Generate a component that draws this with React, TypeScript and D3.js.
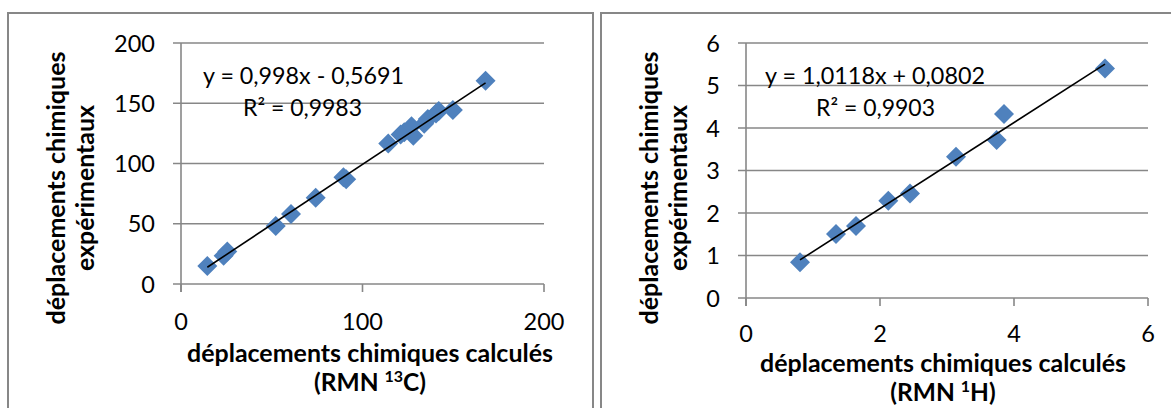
import React from "react";
import * as d3 from "d3";

// ---- data ----
const carbonCalc = [14.5, 23.5, 25.5, 52.2, 60.6, 74.2, 89.5, 91, 114.2, 121, 123, 127, 128, 134, 136, 140.5, 142, 149.8, 167.8];
const carbonExp = [15, 23.5, 27, 48.1, 58, 71.6, 88.5, 87, 116.7, 124, 126, 131, 123, 133, 137, 141.5, 143.5, 144.4, 168.6];
const protonCalc = [0.806, 1.343, 1.642, 2.124, 2.448, 3.134, 3.741, 3.851, 5.358];
const protonExp = [0.84, 1.506, 1.694, 2.29, 2.46, 3.325, 3.718, 4.33, 5.4];
const carbonXTicks = [0, 100, 200];
const carbonYTicks = [0, 50, 100, 150, 200];
const protonXTicks = [0, 2, 4, 6];
const protonYTicks = [0, 1, 2, 3, 4, 5, 6];
const carbonFit = { slope: 0.998, intercept: -0.5691 };
const protonFit = { slope: 1.0118, intercept: 0.0802 };
const carbonEqText = "y = 0,998x - 0,5691";
const carbonR2Text = "R² = 0,9983";
const protonEqText = "y = 1,0118x + 0,0802";
const protonR2Text = "R² = 0,9903";
const yTitle1 = "déplacements chimiques";
const yTitle2 = "expérimentaux";
const xTitle1 = "déplacements chimiques calculés";

const GRID = "#878787";
const BLUE = "#4F81BD";
const FONT = "Lato, 'Open Sans', sans-serif";

type PanelProps = {
  frame: [number, number];
  xs: number[];
  ys: number[];
  xTicks: number[];
  yTicks: number[];
  xDomain: [number, number];
  yDomain: [number, number];
  xRange: [number, number];
  yRange: [number, number];
  fit: { slope: number; intercept: number };
  eq: string;
  r2: string;
  eqPos: [number, number, number];
  r2Pos: [number, number, number];
  yLabelRight: number;
  xLabelBase: number;
  yTitleX: [number, number];
  yTitleY: number;
  xTitleX: number;
  xTitleBase: [number, number];
  nucleusSup: string;
  nucleus: string;
};

function Panel(p: PanelProps) {
  const x = d3.scaleLinear().domain(p.xDomain).range(p.xRange);
  const y = d3.scaleLinear().domain(p.yDomain).range(p.yRange);
  const x0 = p.xRange[0];
  const x1 = p.xRange[1];
  const yb = p.yRange[0];
  const tick = 8;
  const xmin = d3.min(p.xs) as number;
  const xmax = d3.max(p.xs) as number;
  const line = d3
    .line<number>()
    .x((v) => x(v))
    .y((v) => y(p.fit.slope * v + p.fit.intercept));
  const r = 10;
  return (
    <g>
      <rect x={p.frame[0]} y={13} width={p.frame[1] - p.frame[0]} height={420} fill="white" stroke={GRID} strokeWidth={2} />
      {p.yTicks.map((t) => (
        <line key={"g" + t} x1={x0 - tick} x2={x1} y1={y(t)} y2={y(t)} stroke={GRID} strokeWidth={1.6} />
      ))}
      <line x1={x0} x2={x0} y1={y(p.yDomain[1])} y2={yb + tick} stroke={GRID} strokeWidth={1.6} />
      {p.xTicks.map((t) => (
        <line key={"xt" + t} x1={x(t)} x2={x(t)} y1={yb} y2={yb + tick} stroke={GRID} strokeWidth={1.6} />
      ))}
      {p.yTicks.map((t) => (
        <text key={"yl" + t} x={p.yLabelRight} y={y(t) + 8.5} textAnchor="end" fontSize={23.5} fontFamily={FONT} fill="#000">
          {t}
        </text>
      ))}
      {p.xTicks.map((t) => (
        <text key={"xl" + t} x={x(t)} y={p.xLabelBase} textAnchor="middle" fontSize={23.5} fontFamily={FONT} fill="#000">
          {t}
        </text>
      ))}
      {p.xs.map((v, i) => {
        const cx = x(v);
        const cy = y(p.ys[i]);
        return (
          <path key={"m" + i} d={`M${cx},${cy - r}L${cx + r},${cy}L${cx},${cy + r}L${cx - r},${cy}Z`} fill={BLUE} />
        );
      })}
      <path d={line([xmin, xmax]) || ""} stroke="#000" strokeWidth={1.6} fill="none" />
      <text x={p.eqPos[0]} y={p.eqPos[1]} fontSize={24} fontFamily={FONT} textLength={p.eqPos[2]} lengthAdjust="spacingAndGlyphs" fill="#000">
        {p.eq}
      </text>
      <text x={p.r2Pos[0]} y={p.r2Pos[1]} fontSize={24} fontFamily={FONT} textLength={p.r2Pos[2]} lengthAdjust="spacingAndGlyphs" fill="#000">
        {p.r2}
      </text>
      <g fontFamily={FONT} fontWeight="bold" fontSize={24.5} fill="#000">
        <text transform={`translate(${p.yTitleX[0]},${p.yTitleY}) rotate(-90)`} textAnchor="middle" textLength={273} lengthAdjust="spacingAndGlyphs">
          {yTitle1}
        </text>
        <text transform={`translate(${p.yTitleX[1]},${p.yTitleY}) rotate(-90)`} textAnchor="middle" textLength={166} lengthAdjust="spacingAndGlyphs">
          {yTitle2}
        </text>
        <text x={p.xTitleX} y={p.xTitleBase[0]} textAnchor="middle" textLength={366} lengthAdjust="spacingAndGlyphs">
          {xTitle1}
        </text>
        <text x={p.xTitleX} y={p.xTitleBase[1]} textAnchor="middle">
          {"(RMN "}
          <tspan fontSize={16} dy={-9}>{p.nucleusSup}</tspan>
          <tspan dy={9}>{p.nucleus + ")"}</tspan>
        </text>
      </g>
    </g>
  );
}

export default function App() {
  return (
    <svg width={1171} height={408} style={{ position: "absolute", left: 0, top: 0, background: "white" }}>
      <rect x={0} y={0} width={1171} height={408} fill="white" />
      <Panel
        frame={[8, 593]}
        xs={carbonCalc}
        ys={carbonExp}
        xTicks={carbonXTicks}
        yTicks={carbonYTicks}
        xDomain={[0, 200]}
        yDomain={[0, 200]}
        xRange={[181, 544]}
        yRange={[284, 43]}
        fit={carbonFit}
        eq={carbonEqText}
        r2={carbonR2Text}
        eqPos={[203, 84, 201]}
        r2Pos={[243, 116, 119]}
        yLabelRight={155}
        xLabelBase={330}
        yTitleX={[65, 94]}
        yTitleY={188}
        xTitleX={370}
        xTitleBase={[362, 391]}
        nucleusSup="13"
        nucleus="C"
      />
      <Panel
        frame={[601, 1200]}
        xs={protonCalc}
        ys={protonExp}
        xTicks={protonXTicks}
        yTicks={protonYTicks}
        xDomain={[0, 6]}
        yDomain={[0, 6]}
        xRange={[746, 1148]}
        yRange={[298, 43]}
        fit={protonFit}
        eq={protonEqText}
        r2={protonR2Text}
        eqPos={[765, 84, 220]}
        r2Pos={[816, 116, 119]}
        yLabelRight={720}
        xLabelBase={342}
        yTitleX={[658, 687]}
        yTitleY={188}
        xTitleX={943}
        xTitleBase={[372, 401]}
        nucleusSup="1"
        nucleus="H"
      />
    </svg>
  );
}
